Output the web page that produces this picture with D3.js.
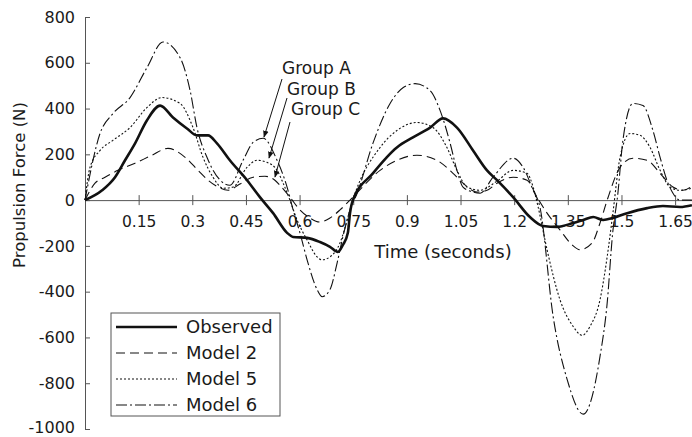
<!DOCTYPE html>
<html>
<head>
<meta charset="utf-8">
<script src="https://cdn.jsdelivr.net/npm/d3@7"></script>
<style>
  body { margin: 0; background: #fff; }
  text { font-family: "DejaVu Sans", sans-serif; fill: #1a1a1a; }
</style>
</head>
<body>
<div id="chart"></div>
<script>

// time (s) and force (N)
var obsT = [0, 0.048, 0.084, 0.112, 0.140, 0.173, 0.210, 0.246, 0.285, 0.313, 0.344, 0.369, 0.405, 0.453, 0.489,
            0.526, 0.565, 0.582, 0.621, 0.657, 0.685, 0.707, 0.721, 0.735, 0.741, 0.749, 0.805, 0.872, 0.917, 0.965,
            1.001, 1.040, 1.085, 1.124, 1.152, 1.197, 1.244, 1.281, 1.320, 1.365, 1.393, 1.421, 1.449, 1.476, 1.516,
            1.572, 1.616, 1.664, 1.697];
var obsV = [0, 43, 100, 174, 248, 348, 413, 361, 313, 283, 283, 248, 174, 87, 13,
            -57, -143, -161, -165, -183, -204, -226, -196, -143, -57, 0, 117, 230, 274, 317,
            357, 317, 217, 130, 87, 13, -74, -113, -117, -100, -87, -74, -87, -78, -57,
            -35, -26, -30, -22];

var m2T = [0, 0.028, 0.056, 0.092, 0.140, 0.187, 0.232, 0.280, 0.316, 0.344, 0.372, 0.400, 0.433, 0.470, 0.503,
           0.531, 0.545, 0.573, 0.601, 0.629, 0.657, 0.685, 0.713, 0.741, 0.825, 0.872, 0.928, 0.984, 1.029, 1.057,
           1.096, 1.124, 1.152, 1.197, 1.236, 1.264, 1.292, 1.328, 1.362, 1.384, 1.418, 1.440, 1.460, 1.496, 1.532,
           1.572, 1.608, 1.644, 1.672, 1.697];
var m2V = [0, 74, 100, 130, 161, 196, 226, 187, 130, 87, 57, 43, 70, 100, 104,
           87, 65, 13, -43, -78, -96, -78, -43, 0, 130, 174, 196, 174, 117, 74,
           35, 43, 74, 100, 87, 13, -57, -130, -196, -217, -187, -100, 0, 143, 183,
           174, 117, 57, 43, 61];

var m5T = [0, 0.014, 0.042, 0.078, 0.126, 0.173, 0.215, 0.266, 0.302, 0.330, 0.358, 0.386, 0.414, 0.453, 0.481,
           0.509, 0.537, 0.554, 0.573, 0.593, 0.621, 0.649, 0.663, 0.685, 0.713, 0.733, 0.749, 0.825, 0.872, 0.928,
           0.973, 1.012, 1.040, 1.068, 1.105, 1.152, 1.197, 1.236, 1.253, 1.267, 1.292, 1.328, 1.365, 1.390, 1.412,
           1.440, 1.460, 1.476, 1.496, 1.524, 1.552, 1.580, 1.608, 1.636, 1.664, 1.697];
var m5V = [0, 143, 217, 261, 317, 404, 448, 422, 317, 187, 100, 52, 57, 143, 174,
           165, 130, 74, 0, -87, -174, -248, -261, -248, -187, -87, 0, 230, 304, 339,
           317, 230, 130, 57, 43, 83, 130, 117, 57, -30, -217, -435, -552, -591, -552,
           -435, -248, -57, 187, 291, 283, 230, 130, 57, 43, 52];

var m6T = [0, 0.042, 0.078, 0.126, 0.173, 0.218, 0.266, 0.294, 0.313, 0.341, 0.378, 0.405, 0.442, 0.470, 0.498,
           0.537, 0.565, 0.582, 0.601, 0.621, 0.649, 0.663, 0.685, 0.705, 0.721, 0.741, 0.761, 0.805, 0.853, 0.889,
           0.923, 0.965, 0.993, 1.021, 1.040, 1.057, 1.085, 1.105, 1.141, 1.197, 1.225, 1.253, 1.272, 1.309, 1.348,
           1.393, 1.440, 1.460, 1.475, 1.490, 1.504, 1.532, 1.560, 1.588, 1.608, 1.627, 1.644, 1.664, 1.697];
var m6V = [0, 291, 378, 448, 578, 691, 622, 478, 317, 187, 87, 65, 174, 252, 270,
           174, 57, -43, -143, -261, -391, -422, -391, -274, -161, -43, 30, 248, 422, 491,
           509, 478, 391, 248, 130, 57, 35, 30, 100, 183, 143, 43, -30, -509, -783,
           -935, -683, -450, -150, 30, 261, 422, 413, 304, 187, 87, 30, 0, 0];

var seriesNames = ["Observed", "Model 2", "Model 5", "Model 6"];
var xTicks = [0.15, 0.3, 0.45, 0.6, 0.75, 0.9, 1.05, 1.2, 1.35, 1.5, 1.65];
var yTicks = [-1000, -800, -600, -400, -200, 0, 200, 400, 600, 800];
var groupLabels = ["Group A", "Group B", "Group C"];

var width = 692, height = 437;
var x0 = 85;

var svg = d3.select("#chart").append("svg")
  .attr("width", width)
  .attr("height", height);

var xScale = d3.scaleLinear().domain([0, 1.7]).range([x0, 693]);
var yScale = d3.scaleLinear().domain([-1000, 800]).range([429, 17]);

// y axis, ticks pointing into the plot
var yAxis = d3.axisLeft(yScale)
  .tickValues(yTicks)
  .tickFormat(function(d) { return String(d); })
  .tickSizeInner(-5)
  .tickSizeOuter(0)
  .tickPadding(10);

var gy = svg.append("g")
  .attr("transform", "translate(" + x0 + ",0)")
  .call(yAxis);
gy.select(".domain").attr("stroke", "#555");
gy.selectAll(".tick line").attr("stroke", "#555");
gy.selectAll(".tick text")
  .attr("font-family", "DejaVu Sans")
  .attr("font-size", 16)
  .attr("fill", "#1a1a1a")
  .attr("dy", function(d) { return d === -1000 ? "0.22em" : "0.32em"; });

// x axis sits on the zero line, ticks crossing it
var xAxis = d3.axisBottom(xScale)
  .tickValues(xTicks)
  .tickFormat(function(d) { return String(d); })
  .tickSizeInner(5)
  .tickSizeOuter(0);

var gx = svg.append("g")
  .attr("transform", "translate(0," + yScale(0) + ")")
  .call(xAxis);
gx.select(".domain").attr("stroke", "#555");
gx.selectAll(".tick line").attr("stroke", "#555").attr("y1", -5).attr("y2", 5);
gx.selectAll(".tick text")
  .attr("font-family", "DejaVu Sans")
  .attr("font-size", 15.5)
  .attr("fill", "#1a1a1a")
  .attr("y", 16);

svg.append("text")
  .attr("x", 443)
  .attr("y", 258)
  .attr("text-anchor", "middle")
  .attr("font-size", 18)
  .text("Time (seconds)");

svg.append("text")
  .attr("transform", "translate(25,185) rotate(-90)")
  .attr("text-anchor", "middle")
  .attr("font-family", "Liberation Sans")
  .attr("font-size", 16.5)
  .text("Propulsion Force (N)");

function zipSeries(ts, vs) {
  return ts.map(function(t, i) { return {t: t, v: vs[i]}; });
}

var series = [
  {name: seriesNames[0], data: zipSeries(obsT, obsV), w: 2.6, dash: null},
  {name: seriesNames[1], data: zipSeries(m2T, m2V), w: 1.1, dash: "9,5"},
  {name: seriesNames[2], data: zipSeries(m5T, m5V), w: 1.1, dash: "2,2"},
  {name: seriesNames[3], data: zipSeries(m6T, m6V), w: 1.1, dash: "11,3,2,3"}
];

var line = d3.line()
  .x(function(d) { return xScale(d.t); })
  .y(function(d) { return yScale(d.v); })
  .curve(d3.curveMonotoneX);

svg.selectAll("path.series")
  .data(series)
  .enter()
    .append("path")
    .attr("class", "series")
    .attr("fill", "none")
    .attr("stroke", "#111")
    .attr("stroke-width", function(d) { return d.w; })
    .attr("stroke-dasharray", function(d) { return d.dash; })
    .attr("stroke-linejoin", "round")
    .attr("d", function(d) { return line(d.data); });

// group annotations with arrows
svg.append("defs").append("marker")
  .attr("id", "arr")
  .attr("viewBox", "0 0 10 10")
  .attr("refX", 9)
  .attr("refY", 5)
  .attr("markerWidth", 7)
  .attr("markerHeight", 7)
  .attr("orient", "auto")
  .append("path")
  .attr("d", "M0,1L10,5L0,9Z")
  .attr("fill", "#111");

var arrows = [
  {lx: 282, ly: 74, x1: 282, y1: 79, x2: 264, y2: 137},
  {lx: 287, ly: 95, x1: 287, y1: 98, x2: 269, y2: 158},
  {lx: 291, ly: 115, x1: 290, y1: 122, x2: 275, y2: 177}
];

svg.selectAll("text.group")
  .data(arrows)
  .enter()
    .append("text")
    .attr("class", "group")
    .attr("x", function(d) { return d.lx; })
    .attr("y", function(d) { return d.ly; })
    .attr("font-size", 17)
    .text(function(d, i) { return groupLabels[i]; });

svg.selectAll("line.arrow")
  .data(arrows)
  .enter()
    .append("line")
    .attr("class", "arrow")
    .attr("x1", function(d) { return d.x1; })
    .attr("y1", function(d) { return d.y1; })
    .attr("x2", function(d) { return d.x2; })
    .attr("y2", function(d) { return d.y2; })
    .attr("stroke", "#111")
    .attr("stroke-width", 1)
    .attr("marker-end", "url(#arr)");

// legend
var legend = svg.append("g").attr("transform", "translate(111,313)");
legend.append("rect")
  .attr("width", 169)
  .attr("height", 103)
  .attr("fill", "#fff")
  .attr("stroke", "#555")
  .attr("stroke-width", 1);

var rows = legend.selectAll("g.row")
  .data(series)
  .enter()
    .append("g")
    .attr("class", "row")
    .attr("transform", function(d, i) { return "translate(0," + (14 + i * 26) + ")"; });

rows.append("line")
  .attr("x1", 5)
  .attr("x2", 66)
  .attr("stroke", "#111")
  .attr("stroke-width", function(d) { return d.w; })
  .attr("stroke-dasharray", function(d) { return d.dash; });

rows.append("text")
  .attr("x", 75)
  .attr("dy", "0.36em")
  .attr("font-size", 18)
  .text(function(d) { return d.name; });

</script>
</body>
</html>
